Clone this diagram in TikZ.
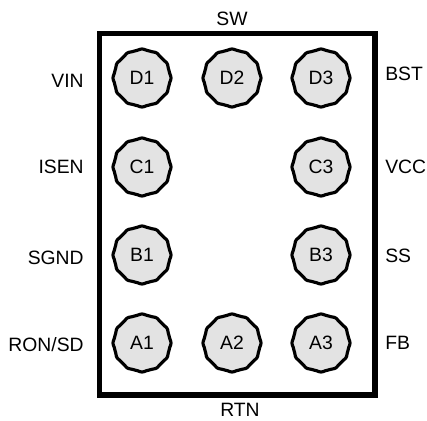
\documentclass[tikz,border=0pt]{standalone}
\usepackage{fontspec}
\setmainfont{Liberation Sans}

\tikzset{
  pinedge/.style={draw=black, fill=pinfill, line width=1.8pt, line join=round},
  pinname/.style={font=\fontsize{11pt}{12pt}\selectfont, inner sep=0pt},
  leftname/.style={pinname, anchor=east},
  rightname/.style={pinname, anchor=west},
}
\definecolor{pinfill}{gray}{0.89}

\begin{document}
\begin{tikzpicture}[x=0.02cm,y=-0.02cm]

\useasboundingbox (0,0) rectangle (427,421);

% package outline
\draw[line width=2.9pt] (99.5,33.5) rectangle (375,395);

% balls: x, y, name
\foreach \Px/\Py/\Pname in {142/78/D1, 232/78/D2, 321/78/D3, 142/167/C1, 321/167/C3,
	142/255/B1, 321/255/B3, 142/343/A1, 232/343/A2, 321/343/A3}{
    \draw[pinedge, shift={(\Px,\Py)}] plot[domain=0:357, samples=120, smooth]
      (\x:{0.02cm*(28+1*pow(cos(6*\x),4))}) -- cycle;
    \node[pinname] (\Pname) at (\Px,\Py) {\Pname};
}

% left side
\node[leftname] (vin) at (84,81) {VIN};
\node[leftname] (isen) at (84,167) {ISEN};
\node[leftname] (sgnd) at (84,258) {SGND};
\node[leftname] (ronsd) at (84,345) {RON/SD};

% right side
\node[rightname] (bst) at (385,74) {BST};
\node[rightname] (vcc) at (385,167) {VCC};
\node[rightname] (ss) at (385,256) {SS};
\node[rightname] (fb) at (385,343) {FB};

% top and bottom
\node[pinname] (sw) at (232,19) {SW};
\node[pinname] (rtn) at (240,410) {RTN};

\end{tikzpicture}
\end{document}
